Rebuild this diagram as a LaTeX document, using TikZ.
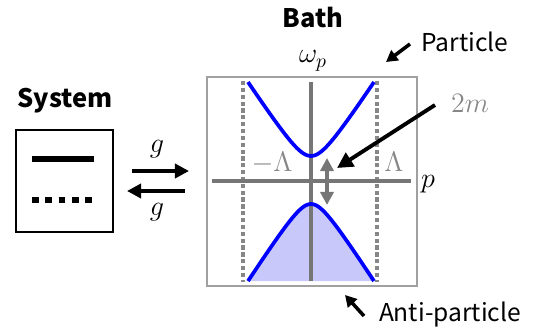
\RequirePackage{fix-cm}
\documentclass[tikz,border=0pt]{standalone}
\usepackage{fontspec}
\usepackage{amsmath}
\newfontfamily\labelfont{Noto Sans CJK JP}
\usetikzlibrary{arrows.meta, positioning}
\definecolor{axisgray}{RGB}{118,118,118}
\definecolor{cutgray}{RGB}{135,135,135}
\definecolor{framegray}{RGB}{160,160,160}
\definecolor{bandblue}{RGB}{0,0,255}
\definecolor{bandfill}{RGB}{200,200,250}

\begin{document}
\begin{tikzpicture}[
  x=0.02cm, y=-0.02cm,
  title/.style={font=\labelfont\fontsize{14.5}{16}\selectfont\bfseries, anchor=base, inner sep=0pt},
  tag/.style={font=\labelfont\fontsize{14}{16}\selectfont, anchor=base, inner sep=0pt},
  mathlbl/.style={font=\fontsize{16}{18}\selectfont, anchor=base, inner sep=0pt},
  axis/.style={axisgray, line width=2.3pt},
  cutoff/.style={cutgray, line width=2.4pt, dash pattern=on 2.4pt off 1.5pt},
  band/.style={bandblue, line width=2.1pt},
  couple/.style={-{Triangle[length=8pt,width=8pt]}, line width=2.8pt},
  pointer/.style={-{Triangle[length=9pt,width=9pt]}, line width=2.2pt},
  smallpointer/.style={-{Triangle[length=6.5pt,width=7pt]}, line width=2pt},
  gap/.style={{Triangle[length=7.5pt,width=7.5pt]}-{Triangle[length=7.5pt,width=7.5pt]}, axisgray, line width=2.4pt}
]
\useasboundingbox (0,0) rectangle (537,330);

% System: two levels
\node[draw, line width=1.2pt, minimum width=1.94cm, minimum height=2.04cm] (system) at (64.5,181) {};
\node[title] (systitle) at (65,108) {System};
\draw[line width=3.8pt] (32,159) -- (94,159);
\draw[line width=3.8pt, dash pattern=on 3.8pt off 3.8pt] (32,200) -- (94,200);

% Coupling
\coordinate (outA) at (132,171);
\coordinate (inA) at (189,171);
\coordinate (outB) at (185,191);
\coordinate (inB) at (127,191);
\draw[couple] (outA) -- (inA);
\draw[couple] (outB) -- (inB);
\node[mathlbl, anchor=center] (gup) at (157,149) {$g$};
\node[mathlbl, anchor=center] (gdown) at (157,212) {$g$};

% Bath: dispersion
\node[draw=framegray, line width=0.8pt, minimum width=4.2cm, minimum height=4.18cm] (bath) at (312,181.5) {};
\node[title] (bathtitle) at (313,28) {Bath};
\fill[bandfill] plot[domain=-63:63, samples=60] ({311+\x},{181+sqrt(529+2.39*\x*\x)}) -- cycle;
\draw[cutoff] (243,81) -- (243,282);
\draw[cutoff] (377,81) -- (377,282);
\draw[axis] (311,82) -- (311,281);
\draw[axis] (212,181) -- (411,181);
\draw[band] plot[domain=-63:63, samples=60] ({311+\x},{181-sqrt(625+2.31*\x*\x)});
\draw[band] plot[domain=-63:63, samples=60] ({311+\x},{181+sqrt(529+2.39*\x*\x)});
\coordinate (gaptop) at (327,158);
\coordinate (gapbot) at (327,205);
\draw[gap] (gaptop) -- (gapbot);

% Labels
\node[mathlbl] (omega) at (313,63) {$\omega_p$};
\node[mathlbl] (mom) at (428,188) {$p$};
\node[mathlbl, text=cutgray] (cutneg) at (272,172) {$-\Lambda$};
\node[mathlbl, text=cutgray] (cutpos) at (394,172) {$\Lambda$};
\node[mathlbl, text=cutgray] (mass) at (470,113) {$2m$};
\node[tag] (particle) at (465,52) {Particle};
\node[tag] (antiparticle) at (450,322) {Anti-particle};

% Pointers
\coordinate (massfrom) at (435,105);
\coordinate (massto) at (337,168);
\coordinate (partfrom) at (410,44);
\coordinate (partto) at (386,62);
\coordinate (antifrom) at (364,316);
\coordinate (antito) at (345,295);
\draw[pointer] (massfrom) -- (massto);
\draw[smallpointer] (partfrom) -- (partto);
\draw[smallpointer] (antifrom) -- (antito);

\end{tikzpicture}
\end{document}
